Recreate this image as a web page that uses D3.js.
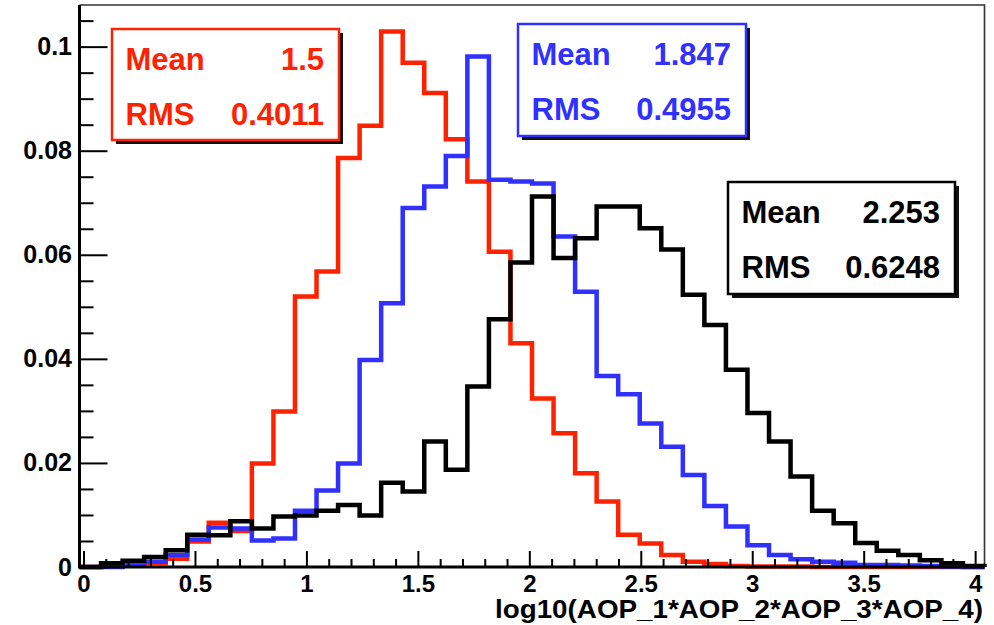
<!DOCTYPE html>
<html>
<head>
<meta charset="utf-8">
<script src="https://cdn.jsdelivr.net/npm/d3@7"></script>
<style>
  html, body { margin: 0; padding: 0; background: #fff; }
  svg { display: block; }
  text { font-family: "Liberation Sans", Arial, Helvetica, sans-serif; font-weight: bold; }
</style>
</head>
<body>
<svg id="chart" width="994" height="625"></svg>
<script>
// Histogram definition: 42 equal bins over the axis range
const xMin = -0.018;
const xMax = 4.042;
const nBins = 42;

// Normalised bin contents, one value per bin
const redValues = [
  0, 0.0002, 0.0004, 0.0007, 0.0016, 0.0049, 0.0085, 0.0069, 0.0199, 0.0299,
  0.0520, 0.0568, 0.0786, 0.0848, 0.1029, 0.0969, 0.0911, 0.0822, 0.0741, 0.0606,
  0.0430, 0.0324, 0.0257, 0.0180, 0.0126, 0.0062, 0.0045, 0.0023, 0.0010, 0.0006,
  0.0002, 0.0001, 0.0001, 0.0001, 0, 0, 0, 0, 0, 0,
  0, 0
];
const blueValues = [
  0, 0, 0.0003, 0.0010, 0.0023, 0.0053, 0.0076, 0.0074, 0.0051, 0.0055,
  0.0108, 0.0147, 0.0199, 0.0398, 0.0507, 0.0690, 0.0731, 0.0790, 0.0981, 0.0744,
  0.0741, 0.0737, 0.0635, 0.0529, 0.0367, 0.0332, 0.0276, 0.0231, 0.0177, 0.0117,
  0.0078, 0.0042, 0.0023, 0.0015, 0.0010, 0.0008, 0.0004, 0.0004, 0.0003, 0.0002,
  0.0001, 0
];
const blackValues = [
  0, 0.0007, 0.0012, 0.0019, 0.0032, 0.0062, 0.0061, 0.0088, 0.0074, 0.0097,
  0.0099, 0.0108, 0.0119, 0.0099, 0.0162, 0.0145, 0.0241, 0.0187, 0.0347, 0.0476,
  0.0585, 0.0712, 0.0594, 0.0632, 0.0693, 0.0693, 0.0651, 0.0610, 0.0523, 0.0465,
  0.0379, 0.0296, 0.0241, 0.0174, 0.0108, 0.0084, 0.0046, 0.0031, 0.0023, 0.0013,
  0.0007, 0.0002
];

// Statistics shown in each box
const statNames = ["Mean", "RMS"];
const redStats = ["1.5", "0.4011"];
const blueStats = ["1.847", "0.4955"];
const blackStats = ["2.253", "0.6248"];

// Axis ticks and labels
const xMajorTicks = [0, 0.5, 1, 1.5, 2, 2.5, 3, 3.5, 4];
const xTickLabels = ["0", "0.5", "1", "1.5", "2", "2.5", "3", "3.5", "4"];
const yMajorTicks = [0, 0.02, 0.04, 0.06, 0.08, 0.1];
const yTickLabels = ["0", "0.02", "0.04", "0.06", "0.08", "0.1"];
const yMax = 0.108;
const xTitle = "log10(AOP_1*AOP_2*AOP_3*AOP_4)";

// ---- layout ----
const frame = { left: 79.5, right: 984.5, top: 5, bottom: 567 };
const RED = "#ff2200", BLUE = "#3030ff", BLACK = "#000000";

const svg = d3.select("#chart");
svg.append("rect").attr("width", 994).attr("height", 625).attr("fill", "#fff");

const x = d3.scaleLinear().domain([xMin, xMax]).range([frame.left, frame.right]);
const y = d3.scaleLinear().domain([0, yMax]).range([frame.bottom, frame.top]);

const edges = d3.range(nBins + 1).map(i => xMin + i * (xMax - xMin) / nBins);

// frame (top and right sides)
svg.append("path")
  .attr("d", `M${frame.left},${frame.top}H${frame.right}V${frame.bottom}`)
  .attr("fill", "none").attr("stroke", "#333").attr("stroke-width", 1.6);

// step outline of a histogram
function stepPath(values) {
  const p = d3.path();
  p.moveTo(x(edges[0]), y(0));
  values.forEach((v, i) => {
    p.lineTo(x(edges[i]), y(v));
    p.lineTo(x(edges[i + 1]), y(v));
  });
  p.lineTo(x(edges[nBins]), y(0));
  return p.toString();
}

const series = [
  { values: redValues, color: RED },
  { values: blueValues, color: BLUE },
  { values: blackValues, color: BLACK }
];
svg.append("g").selectAll("path").data(series).join("path")
  .attr("d", d => stepPath(d.values))
  .attr("fill", "none")
  .attr("stroke", d => d.color)
  .attr("stroke-width", 4.5)
  .attr("stroke-linejoin", "miter");

// ---- axes ----
const xMinor = d3.range(1, 41).map(i => i / 10).filter(v => Math.abs(v * 2 - Math.round(v * 2)) > 1e-9);

const gx = svg.append("g").attr("transform", `translate(0,${frame.bottom})`);
gx.append("g").call(d3.axisBottom(x).tickValues(xMinor).tickSize(-8).tickFormat(""))
  .call(g => g.select(".domain").remove());
gx.append("g").call(
    d3.axisBottom(x).tickValues(xMajorTicks).tickSize(-16).tickSizeOuter(0).tickPadding(8)
      .tickFormat((d, i) => xTickLabels[i]))
  .call(g => g.select(".domain").remove())
  .call(g => g.selectAll("text").attr("font-size", 24).attr("fill", "#000")
    .style("font-family", '"Liberation Sans", Arial, sans-serif').style("font-weight", "bold"));
gx.selectAll(".tick line").attr("stroke", "#000").attr("stroke-width", 2);

const yMinor = d3.range(1, 22).map(i => i * 0.005).filter(v => Math.abs(v / 0.02 - Math.round(v / 0.02)) > 1e-6);
const gy = svg.append("g").attr("transform", `translate(${frame.left},0)`);
gy.append("g").call(d3.axisLeft(y).tickValues(yMinor).tickSize(-14).tickFormat(""))
  .call(g => g.select(".domain").remove());
gy.append("g").call(
    d3.axisLeft(y).tickValues(yMajorTicks).tickSize(-28).tickSizeOuter(0).tickPadding(7.5)
      .tickFormat((d, i) => yTickLabels[i]))
  .call(g => g.select(".domain").remove())
  .call(g => g.selectAll("text").attr("font-size", 25).attr("fill", "#000")
    .style("font-family", '"Liberation Sans", Arial, sans-serif').style("font-weight", "bold"));
gy.selectAll(".tick line").attr("stroke", "#000").attr("stroke-width", 2);

// axis lines
svg.append("path")
  .attr("d", `M${frame.left},${frame.top}V${frame.bottom}H${frame.right}`)
  .attr("fill", "none").attr("stroke", "#000").attr("stroke-width", 3);

// axis title
svg.append("text")
  .attr("x", 983).attr("y", 618)
  .attr("text-anchor", "end")
  .attr("font-size", 25)
  .attr("textLength", 488).attr("lengthAdjust", "spacingAndGlyphs")
  .text(xTitle);

// ---- statistics boxes ----
const boxes = [
  { x0: 112, y0: 29, w: 227, h: 111, color: RED, stats: redStats },
  { x0: 518, y0: 24, w: 228, h: 112, color: BLUE, stats: blueStats },
  { x0: 728, y0: 182, w: 227, h: 112, color: BLACK, stats: blackStats }
];
const gb = svg.append("g").selectAll("g").data(boxes).join("g");
gb.append("rect")
  .attr("x", d => d.x0 + 4).attr("y", d => d.y0 + 4)
  .attr("width", d => d.w).attr("height", d => d.h)
  .attr("fill", "#111");
gb.append("rect")
  .attr("x", d => d.x0).attr("y", d => d.y0)
  .attr("width", d => d.w).attr("height", d => d.h)
  .attr("fill", "#fff").attr("stroke", d => d.color).attr("stroke-width", 2.5);
statNames.forEach((name, k) => {
  gb.append("text")
    .attr("x", d => d.x0 + 13.5).attr("y", d => d.y0 + 41 + k * 54.5)
    .attr("font-size", 31).attr("fill", d => d.color)
    .text(name);
  gb.append("text")
    .attr("x", d => d.x0 + d.w - 15).attr("y", d => d.y0 + 41 + k * 54.5)
    .attr("font-size", 31).attr("fill", d => d.color)
    .attr("text-anchor", "end")
    .text(d => d.stats[k]);
});
</script>
</body>
</html>
